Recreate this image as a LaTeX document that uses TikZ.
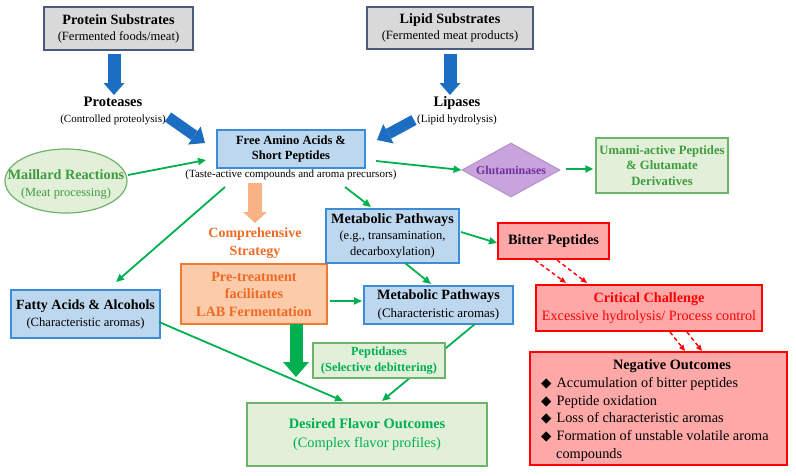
\documentclass[tikz,border=0pt]{standalone}
\usepackage{fontspec}
\setmainfont{Liberation Serif}
\newfontfamily\symfont{DejaVu Sans}
\usetikzlibrary{arrows.meta,shapes.geometric}
\definecolor{grayfill}{HTML}{D9D9D9}
\definecolor{grayline}{HTML}{4A5A78}
\definecolor{bluefill}{HTML}{BDD7EE}
\definecolor{blueline}{HTML}{3A8DD6}
\definecolor{bluearr}{HTML}{1B6EC2}
\definecolor{grn}{HTML}{00B050}
\definecolor{lgreen}{HTML}{E2F0D9}
\definecolor{gline}{HTML}{6DB36A}
\definecolor{dgreen}{HTML}{3E9B3E}
\definecolor{purfill}{HTML}{C9A3DB}
\definecolor{purline}{HTML}{B48FCB}
\definecolor{purtext}{HTML}{7030A0}
\definecolor{orfill}{HTML}{FBCBAA}
\definecolor{orline}{HTML}{F07A32}
\definecolor{ortext}{HTML}{F06A25}
\definecolor{orarr}{HTML}{F8B285}
\definecolor{redfill}{HTML}{FFA8A8}
\definecolor{redline}{HTML}{FF0000}
\begin{document}
\begin{tikzpicture}[x=1pt,y=-1pt,
  box/.style={draw, line width=1.2pt, inner sep=2pt, align=center},
  graybox/.style={box, fill=grayfill, draw=grayline},
  bluebox/.style={box, fill=bluefill, draw=blueline},
  greenbox/.style={box, fill=lgreen, draw=gline},
  orangebox/.style={box, fill=orfill, draw=orline},
  redbox/.style={box, fill=redfill, draw=redline},
  txt/.style={inner sep=0pt, align=center},
  bluearrow/.style={draw=bluearr, line width=13pt, -{Triangle[length=12pt,width=21pt,line width=0pt]}},
  bluediag/.style={draw=bluearr, line width=11pt, -{Triangle[length=13pt,width=22pt,line width=0pt]}},
  orarrow/.style={draw=orarr, line width=14pt, -{Triangle[length=11pt,width=24pt,line width=0pt]}},
  bigarrow/.style={draw=grn, line width=13pt, -{Triangle[length=15pt,width=26pt,line width=0pt]}},
  garrow/.style={draw=grn, line width=1.8pt, -{Triangle[length=8pt,width=7pt]}},
  rarrow/.style={draw=redline, line width=1.4pt, dashed, dash pattern=on 4pt off 3pt, -{Triangle[length=6pt,width=5pt]}}
]
\useasboundingbox (0,0) rectangle (796,475);

% top substrates
\node[graybox, minimum width=149pt, minimum height=43pt, font=\fontsize{12.6}{16}\selectfont] (prot) at (118.5,28.5)
  {{\bfseries\fontsize{14.2}{16}\selectfont Protein Substrates}\\(Fermented foods/meat)};
\node[graybox, minimum width=166pt, minimum height=42pt, font=\fontsize{12.6}{16}\selectfont] (lip) at (450,28)
  {{\bfseries\fontsize{14.2}{16}\selectfont Lipid Substrates}\\(Fermented meat products)};

\node[txt, font=\fontsize{11}{16}\selectfont] (proteases) at (113,111)
  {{\bfseries\fontsize{14.5}{16}\selectfont Proteases}\\(Controlled proteolysis)};
\node[txt, font=\fontsize{11}{16}\selectfont] (lipases) at (457,111)
  {{\bfseries\fontsize{14.5}{16}\selectfont Lipases}\\(Lipid hydrolysis)};

% central
\node[bluebox, minimum width=148pt, minimum height=38pt, font=\bfseries\fontsize{12.5}{15}\selectfont] (faa) at (291,149)
  {Free Amino Acids \&\\Short Peptides};
\node[txt, font=\fontsize{11}{12}\selectfont] (faanote) at (291,175)
  {(Taste-active compounds and aroma precursors)};

\node[ellipse, draw=gline, fill=lgreen, line width=1.2pt, minimum width=122pt, minimum height=64pt, inner sep=0pt] (maillard) at (66,181) {};
\node[txt, text=dgreen, font=\fontsize{12.4}{17}\selectfont] (maillardtext) at (66,184)
  {{\bfseries\fontsize{14.2}{17}\selectfont Maillard Reactions}\\(Meat processing)};

\node[diamond, draw=purline, fill=purfill, line width=1pt, minimum width=98pt, minimum height=54pt, inner sep=0pt] (glut) at (511,170) {};
\node[txt, text=purtext, font=\bfseries\fontsize{12}{14}\selectfont] (gluttext) at (511,170) {Glutaminases};

\node[greenbox, text=dgreen, minimum width=132pt, minimum height=55pt, font=\bfseries\fontsize{12.7}{15.5}\selectfont] (umami) at (662,165.5)
  {Umami-active Peptides\\\& Glutamate\\Derivatives};

\node[txt, text=ortext, font=\bfseries\fontsize{14}{18}\selectfont] (comp) at (255,243) {Comprehensive\\Strategy};
\node[orangebox, text=ortext, minimum width=146pt, minimum height=60pt, font=\bfseries\fontsize{14.2}{17.5}\selectfont] (pre) at (254,294)
  {Pre-treatment\\facilitates\\LAB Fermentation};

\node[bluebox, minimum width=149pt, minimum height=48pt, font=\fontsize{12.6}{17}\selectfont] (fa) at (85.5,314)
  {{\bfseries\fontsize{14}{17}\selectfont Fatty Acids \& Alcohols}\\(Characteristic aromas)};

\node[bluebox, minimum width=133pt, minimum height=54pt, font=\fontsize{12.5}{16}\selectfont] (mp1) at (392.5,236)
  {{\bfseries\fontsize{14.2}{16}\selectfont Metabolic Pathways}\\(e.g., transamination,\\decarboxylation)};

\node[bluebox, minimum width=149pt, minimum height=38pt, font=\fontsize{13}{17.5}\selectfont] (mp2) at (438.5,305)
  {{\bfseries\fontsize{14.2}{17.5}\selectfont Metabolic Pathways}\\(Characteristic aromas)};

\node[redbox, minimum width=111pt, minimum height=36pt, font=\bfseries\fontsize{14.3}{16}\selectfont] (bitter) at (553.5,241) {Bitter Peptides};

\node[redbox, text=redline, minimum width=226pt, minimum height=46pt, font=\fontsize{14.2}{18}\selectfont] (crit) at (649,308)
  {{\bfseries\fontsize{14.2}{18}\selectfont Critical Challenge}\\Excessive hydrolysis/ Process control};

\node[redbox, minimum width=257pt, minimum height=113pt] (neg) at (658.5,408.5) {};
\node[txt, font=\bfseries\fontsize{14.3}{16}\selectfont] (negtitle) at (672,366) {Negative Outcomes};
\node[inner sep=0pt, align=left, anchor=north west, font=\fontsize{14.3}{17.8}\selectfont] (neglist) at (541,377)
  {{\symfont\fontsize{13.5}{12}\selectfont ◆}\hspace{5pt}Accumulation of bitter peptides\\
   {\symfont\fontsize{13.5}{12}\selectfont ◆}\hspace{5pt}Peptide oxidation\\
   {\symfont\fontsize{13.5}{12}\selectfont ◆}\hspace{5pt}Loss of characteristic aromas\\
   {\symfont\fontsize{13.5}{12}\selectfont ◆}\hspace{5pt}Formation of unstable volatile aroma\\
   \hspace{15pt}compounds};

\node[greenbox, text=grn, minimum width=240pt, minimum height=63pt, font=\fontsize{14.4}{19}\selectfont] (des) at (367,434.5)
  {{\bfseries Desired Flavor Outcomes}\\(Complex flavor profiles)};

% connectors
\draw[bluearrow] ([shift={(-4.5,25.5)}]prot.center) -- ([shift={(1,-16)}]proteases.center);
\draw[bluearrow] ([shift={(0,26)}]lip.center) -- ([shift={(-7,-16)}]lipases.center);
\draw[bluediag] ([shift={(55,6)}]proteases.center) -- ([shift={(-86,-6)}]faa.center);
\draw[bluediag] ([shift={(-43,9)}]lipases.center) -- ([shift={(86,-9)}]faa.center);

\draw[garrow] ([shift={(62,-6)}]maillard.center) -- ([shift={(-85,11)}]faa.center);
\draw[garrow] ([shift={(85,12)}]faa.center) -- (glut.west);
\draw[garrow] ([shift={(5,-1)}]glut.east) -- ([shift={(-2,3.5)}]umami.west);
\draw[orarrow] ([shift={(-36,8)}]faanote.center) -- ([shift={(0,-20)}]comp.center);
\draw[garrow] ([shift={(-66,38)}]faa.center) -- ([shift={(30.5,-32)}]fa.center);
\draw[garrow] ([shift={(54,38)}]faa.center) -- ([shift={(-21.5,-29)}]mp1.center);
\draw[garrow] ([shift={(76,7)}]pre.center) -- ([shift={(-76.5,-4)}]mp2.center);
\draw[garrow] ([shift={(12.5,27)}]mp1.center) -- ([shift={(-7.5,-21)}]mp2.center);
\draw[garrow] ([shift={(68.5,-4)}]mp1.center) -- ([shift={(-56.5,2)}]bitter.center);
\draw[rarrow] ([shift={(-18.5,19)}]bitter.center) -- ([shift={(-83,-25)}]crit.center);
\draw[rarrow] ([shift={(3.5,19)}]bitter.center) -- ([shift={(-62,-25)}]crit.center);
\draw[rarrow] ([shift={(21,24)}]crit.center) -- ([shift={(26.5,-57.5)}]neg.center);
\draw[rarrow] ([shift={(38,24)}]crit.center) -- ([shift={(43.5,-57.5)}]neg.center);
\draw[bigarrow] ([shift={(42,30)}]pre.center) -- ([shift={(-71,-57.5)}]des.center);
\draw[garrow] ([shift={(73.5,8)}]fa.center) -- ([shift={(-24,-33.5)}]des.center);
\draw[garrow] ([shift={(36.5,19)}]mp2.center) -- ([shift={(15,-33.5)}]des.center);

\node[greenbox, text=grn, minimum width=132pt, minimum height=35pt, font=\bfseries\fontsize{12.4}{16}\selectfont] (pept) at (379,360.5)
  {Peptidases\\(Selective debittering)};
\end{tikzpicture}
\end{document}
